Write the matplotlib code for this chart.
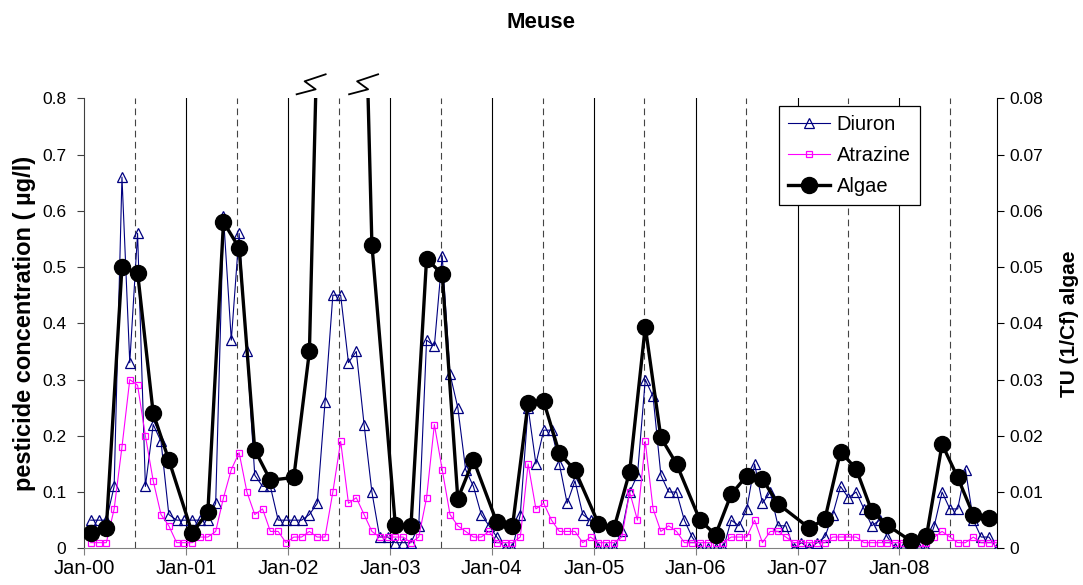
import numpy as np
import pandas as pd
import matplotlib
matplotlib.use("Agg")
import matplotlib.pyplot as plt
import matplotlib.dates as mdates
import matplotlib.transforms as mtransforms
from matplotlib.lines import Line2D

plt.rcParams['font.family'] = ['Liberation Sans', 'DejaVu Sans']

# ---------------- data ----------------
title = "Meuse"
first_sample = "2000-01-24"          # 4-weekly pesticide sampling starts here

diuron = [
    0.05, 0.05, 0.05, 0.11, 0.66, 0.33, 0.56, 0.11, 0.22, 0.19, 0.06, 0.05, 0.05,
    0.05, 0.05, 0.05, 0.08, 0.59, 0.37, 0.56, 0.35, 0.13, 0.11, 0.11, 0.05, 0.05,
    0.05, 0.05, 0.06, 0.08, 0.26, 0.45, 0.45, 0.33, 0.35, 0.22, 0.10, 0.02, 0.02,
    0.01, 0.01, 0.01, 0.04, 0.37, 0.36, 0.52, 0.31, 0.25, 0.14, 0.11, 0.06, 0.04,
    0.02, 0.00, 0.00, 0.06, 0.25, 0.15, 0.21, 0.21, 0.15, 0.08, 0.12, 0.06, 0.05,
    0.00, 0.00, 0.00, 0.03, 0.10, 0.13, 0.30, 0.27, 0.13, 0.10, 0.10, 0.05, 0.02,
    0.00, 0.00, 0.00, 0.00, 0.05, 0.04, 0.07, 0.15, 0.08, 0.10, 0.04, 0.04, 0.00,
    0.01, 0.00, 0.01, 0.02, 0.06, 0.11, 0.09, 0.10, 0.07, 0.04, 0.05, 0.02, 0.00,
    0.00, 0.00, 0.00, 0.00, 0.04, 0.10, 0.07, 0.07, 0.14, 0.05, 0.02, 0.02, 0.00,
]

atrazine = [
    0.01, 0.01, 0.01, 0.07, 0.18, 0.30, 0.29, 0.20, 0.12, 0.06, 0.04, 0.01, 0.01,
    0.01, 0.02, 0.02, 0.03, 0.09, 0.14, 0.17, 0.10, 0.06, 0.07, 0.03, 0.03, 0.01,
    0.02, 0.02, 0.03, 0.02, 0.02, 0.10, 0.19, 0.08, 0.09, 0.06, 0.03, 0.02, 0.02,
    0.02, 0.02, 0.01, 0.02, 0.09, 0.22, 0.14, 0.06, 0.04, 0.03, 0.02, 0.02, 0.03,
    0.01, 0.01, 0.01, 0.02, 0.15, 0.07, 0.08, 0.05, 0.03, 0.03, 0.03, 0.01, 0.02,
    0.01, 0.01, 0.01, 0.02, 0.10, 0.05, 0.19, 0.07, 0.03, 0.04, 0.03, 0.01, 0.01,
    0.01, 0.01, 0.01, 0.01, 0.02, 0.02, 0.02, 0.05, 0.01, 0.03, 0.03, 0.02, 0.01,
    0.01, 0.01, 0.01, 0.01, 0.02, 0.02, 0.02, 0.02, 0.01, 0.01, 0.01, 0.01, 0.01,
    0.01, 0.01, 0.01, 0.01, 0.02, 0.03, 0.02, 0.01, 0.01, 0.02, 0.01, 0.01, 0.01,
]

algae_dates = [
    "2000-01-24", "2000-03-20", "2000-05-15", "2000-07-10", "2000-09-04", "2000-10-30",
    "2001-01-22", "2001-03-19", "2001-05-14", "2001-07-09", "2001-09-03", "2001-10-29",
    "2002-01-21", "2002-03-18", "2002-05-13", "2002-09-02", "2002-10-28",
    "2003-01-20", "2003-03-17", "2003-05-12", "2003-07-07", "2003-09-01", "2003-10-27",
    "2004-01-19", "2004-03-15", "2004-05-10", "2004-07-05", "2004-08-30", "2004-10-25",
    "2005-01-17", "2005-03-14", "2005-05-09", "2005-07-04", "2005-08-29", "2005-10-24",
    "2006-01-16", "2006-03-13", "2006-05-08", "2006-07-03", "2006-08-28", "2006-10-23",
    "2007-02-12", "2007-04-09", "2007-06-04", "2007-07-30", "2007-09-24", "2007-11-19",
    "2008-02-11", "2008-04-07", "2008-06-02", "2008-07-28", "2008-09-22", "2008-11-17",
]
algae_tu = [
    0.0027, 0.0036, 0.0500, 0.0490, 0.0240, 0.0157,
    0.0027, 0.0065, 0.0580, 0.0534, 0.0175, 0.0121,
    0.0126, 0.0350, 0.1480, 0.1610, 0.0540,
    0.0041, 0.0039, 0.0515, 0.0487, 0.0088, 0.0157,
    0.0046, 0.0039, 0.0259, 0.0261, 0.0169, 0.0139,
    0.0044, 0.0036, 0.0136, 0.0394, 0.0197, 0.0150,
    0.0050, 0.0024, 0.0096, 0.0129, 0.0123, 0.0079,
    0.0036, 0.0052, 0.0172, 0.0141, 0.0066, 0.0041,
    0.0013, 0.0021, 0.0185, 0.0126, 0.0059, 0.0053,
]

years = [2000, 2001, 2002, 2003, 2004, 2005, 2006, 2007, 2008]
year_labels = ["Jan-00", "Jan-01", "Jan-02", "Jan-03", "Jan-04",
               "Jan-05", "Jan-06", "Jan-07", "Jan-08"]
left_ticks = [0, 0.1, 0.2, 0.3, 0.4, 0.5, 0.6, 0.7, 0.8]
right_ticks = [0, 0.01, 0.02, 0.03, 0.04, 0.05, 0.06, 0.07, 0.08]

# ---------------- figure ----------------
sample_dates = pd.date_range(first_sample, periods=len(diuron), freq="28D")
algae_dt = pd.to_datetime(algae_dates)

fig = plt.figure(figsize=(10.83, 5.85), dpi=100)
ax = fig.add_axes([0.07784, 0.06274, 0.84303, 0.76923])
ax2 = ax.twinx()

x_start = pd.Timestamp("2000-01-01")
x_end = pd.Timestamp("2008-12-17")
ax.set_xlim(x_start, x_end)
ax.set_ylim(0, 0.8)
ax2.set_ylim(0, 0.08)

# yearly (solid) and mid-year (dashed) vertical lines
for y in years[1:]:
    ax.axvline(pd.Timestamp(y, 1, 1), color="black", lw=0.8, zorder=1)
for y in years:
    ax.axvline(pd.Timestamp(y, 7, 1), color="#444444", lw=0.8,
               ls=(0, (6, 4)), zorder=1)

ax.plot(sample_dates, diuron, color="#000080", lw=0.8, marker="^",
        ms=6.5, mfc="none", mec="#000080", mew=0.9, label="Diuron", zorder=3)
ax.plot(sample_dates, atrazine, color="#FF00FF", lw=0.8, marker="s",
        ms=5, mfc="none", mec="#FF00FF", mew=0.9, label="Atrazine", zorder=3)
ax2.plot(algae_dt, algae_tu, color="black", lw=2.4, marker="o", ms=11.5,
         mfc="black", mec="black", label="Algae", zorder=4)

# break symbols where the algae line leaves the top of the scale
top = ax2.get_ylim()[1]
xs = mdates.date2num(algae_dt)
ys = np.asarray(algae_tu)
shape = np.array([[-19, 4], [0, 9], [-11, 17], [10, 24]], dtype=float)
for i in range(len(ys) - 1):
    if (ys[i] - top) * (ys[i + 1] - top) < 0:
        xc = xs[i] + (top - ys[i]) * (xs[i + 1] - xs[i]) / (ys[i + 1] - ys[i])
        px, py = ax2.transData.transform((xc, top))
        pts = shape + np.array([px, py])
        fig.add_artist(Line2D(pts[:, 0], pts[:, 1], transform=mtransforms.IdentityTransform(),
                              color="black", lw=1.3, clip_on=False))

# axes styling
ax.set_xticks([pd.Timestamp(y, 1, 1) for y in years])
ax.set_xticklabels(year_labels)
ax.set_yticks(left_ticks)
ax.set_yticklabels(["0" if v == 0 else f"{v:.1f}" for v in left_ticks])
ax2.set_yticks(right_ticks)
ax2.set_yticklabels(["0" if v == 0 else f"{v:.2f}" for v in right_ticks])

for a in (ax, ax2):
    a.spines["top"].set_visible(False)
ax.spines["left"].set_color("#404040")
ax.spines["bottom"].set_color("#808080")
ax.spines["right"].set_visible(False)
ax2.spines["left"].set_visible(False)
ax2.spines["bottom"].set_visible(False)
ax2.spines["right"].set_color("black")

ax.tick_params(axis="y", direction="out", length=5, width=0.8, labelsize=12.5,
               colors="#404040", labelcolor="black", pad=8)
ax.tick_params(axis="x", direction="out", length=5, width=0.8, labelsize=14.5,
               colors="#808080", labelcolor="black", pad=3)
ax2.tick_params(axis="y", direction="out", length=5, width=0.8, labelsize=12.5)

ax.set_ylabel("pesticide concentration ( µg/l)", fontsize=17, fontweight="bold", labelpad=4)
ax2.set_ylabel("TU (1/Cf) algae", fontsize=15, fontweight="bold", labelpad=12)
fig.text(0.5, 0.962, title, ha="center", va="center", fontsize=16, fontweight="bold")

h1, l1 = ax.get_legend_handles_labels()
h2, l2 = ax2.get_legend_handles_labels()
leg = ax2.legend(h1 + h2, l1 + l2, loc="upper left", bbox_to_anchor=(0.761, 0.983),
                 fontsize=14.5, frameon=True, fancybox=False, edgecolor="black",
                 framealpha=1, handlelength=2.1, handletextpad=0.3,
                 labelspacing=0.6, borderpad=0.45, borderaxespad=0)
leg.get_frame().set_linewidth(0.9)

fig.savefig("out.png", dpi=100)
